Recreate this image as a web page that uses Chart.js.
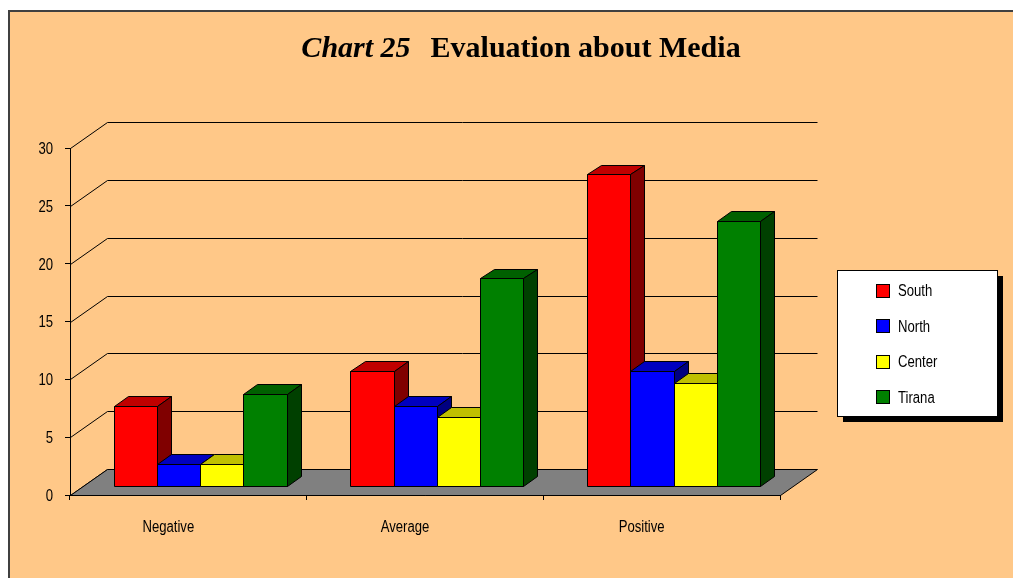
<!DOCTYPE html>
<html>
<head>
<meta charset="utf-8">
<script src="https://cdn.jsdelivr.net/npm/chart.js@4/dist/chart.umd.min.js"></script>
<style>
  html, body { margin: 0; padding: 0; background: #fff; }
  canvas { display: block; }
</style>
</head>
<body>
<canvas id="mediaChart" width="1013" height="578"></canvas>
<script>
var categories = ["Negative", "Average", "Positive"];
var regions = ["South", "North", "Center", "Tirana"];
var south = [7, 10, 27];
var north = [2, 7, 10];
var center = [2, 6, 9];
var tirana = [8, 18, 23];
var yTicks = [0, 5, 10, 15, 20, 25, 30];

var seriesValues = [south, north, center, tirana];

// front / top / side shade of each series box
var faceColors = [
    { front: '#ff0000', top: '#c00000', side: '#800000' },
    { front: '#0000ff', top: '#0000c0', side: '#000080' },
    { front: '#ffff00', top: '#c0c000', side: '#808000' },
    { front: '#008000', top: '#006000', side: '#004000' }
];

// depth of the 3d box, and the slice of it the bars stand in
var WALL = { dx: 37, dy: -26 };
var BAR_FRONT = 0.32, BAR_BACK = 0.70;

var LABEL_FONT = '16px "Liberation Sans", Arial, sans-serif';
var NARROW = 0.82;   // squeeze axis/legend text like Arial Narrow

function px(v) { return Math.round(v) + 0.5; }

function quad(c, pts, fill) {
    c.beginPath();
    c.moveTo(px(pts[0][0]), px(pts[0][1]));
    for (var i = 1; i < pts.length; i++) c.lineTo(px(pts[i][0]), px(pts[i][1]));
    c.closePath();
    c.fillStyle = fill;
    c.fill();
    c.stroke();
}

function narrowText(c, text, x, y, align) {
    c.save();
    c.font = LABEL_FONT;
    c.fillStyle = '#000';
    c.textAlign = align;
    c.textBaseline = 'middle';
    c.scale(NARROW, 1);
    c.fillText(text, x / NARROW, y + 1.5);
    c.restore();
}

var box3d = {
    id: 'box3d',
    beforeDraw: function (chart) {
        var c = chart.ctx, a = chart.chartArea, y = chart.scales.y;
        c.save();
        // sheet background and frame
        c.fillStyle = '#fff';
        c.fillRect(0, 0, chart.width, chart.height);
        c.fillStyle = '#ffc888';
        c.fillRect(9, 11, chart.width - 9, chart.height - 11);
        c.strokeStyle = '#404040';
        c.lineWidth = 2;
        c.beginPath();
        c.moveTo(9, chart.height);
        c.lineTo(9, 11);
        c.lineTo(chart.width, 11);
        c.stroke();

        // side wall diagonals + back wall gridlines
        c.lineWidth = 1;
        c.strokeStyle = '#000';
        yTicks.forEach(function (v) {
            var py = y.getPixelForValue(v);
            c.beginPath();
            c.moveTo(px(a.left), px(py));
            c.lineTo(px(a.left + WALL.dx), px(py + WALL.dy));
            if (v > 0) c.lineTo(px(a.right + WALL.dx), px(py + WALL.dy));
            c.stroke();
        });

        // floor
        var fy = y.getPixelForValue(0);
        quad(c, [[a.left, fy], [a.right, fy], [a.right + WALL.dx, fy + WALL.dy], [a.left + WALL.dx, fy + WALL.dy]], '#808080');
        c.restore();
    },
    beforeDatasetsDraw: function (chart) {
        var c = chart.ctx;
        var fx = WALL.dx * BAR_FRONT, fy = WALL.dy * BAR_FRONT;
        var bx = WALL.dx * (BAR_BACK - BAR_FRONT), by = WALL.dy * (BAR_BACK - BAR_FRONT);
        c.save();
        c.lineWidth = 1;
        c.strokeStyle = '#000';
        // left to right so each box hides the side of the one before it
        categories.forEach(function (cat, i) {
            chart.data.datasets.forEach(function (ds, d) {
                var bar = chart.getDatasetMeta(d).data[i];
                var l = bar.x - bar.width / 2 + fx, r = bar.x + bar.width / 2 + fx;
                var t = bar.y + fy, b = bar.base + fy;
                var col = faceColors[d];
                quad(c, [[l, b], [r, b], [r, t], [l, t]], col.front);
                quad(c, [[l, t], [r, t], [r + bx, t + by], [l + bx, t + by]], col.top);
                quad(c, [[r, b], [r + bx, b + by], [r + bx, t + by], [r, t]], col.side);
            });
        });
        c.restore();
        return false;
    },
    afterDraw: function (chart) {
        var c = chart.ctx, xs = chart.scales.x, ys = chart.scales.y;

        // axis labels
        yTicks.forEach(function (v) {
            narrowText(c, String(v), ys.right - 17, ys.getPixelForValue(v), 'right');
        });
        categories.forEach(function (cat, i) {
            narrowText(c, cat, xs.getPixelForValue(i) - 20, 526, 'center');
        });

        c.save();
        // title, italic chart number then bold caption
        var part1 = 'Chart 25', part2 = 'Evaluation about Media', gap = 20;
        var f1 = 'bold italic 30px "Liberation Serif", "Times New Roman", serif';
        var f2 = 'bold 30px "Liberation Serif", "Times New Roman", serif';
        c.font = f1;
        var w1 = c.measureText(part1).width;
        c.font = f2;
        var w2 = c.measureText(part2).width;
        var x0 = 521 - (w1 + gap + w2) / 2;
        c.fillStyle = '#000';
        c.textBaseline = 'alphabetic';
        c.textAlign = 'left';
        c.font = f1;
        c.fillText(part1, x0, 57);
        c.font = f2;
        c.fillText(part2, x0 + w1 + gap, 57);

        // legend box with drop shadow
        var lx = 837, ly = 270, lw = 160, lh = 146;
        c.fillStyle = '#000';
        c.fillRect(lx + 6, ly + 6, lw, lh);
        c.fillStyle = '#fff';
        c.fillRect(lx, ly, lw, lh);
        c.strokeStyle = '#000';
        c.lineWidth = 1;
        c.strokeRect(lx + 0.5, ly + 0.5, lw, lh);
        chart.data.datasets.forEach(function (ds, d) {
            var cy = 290 + d * 35.6;
            var sy = Math.round(cy - 6.5);
            c.fillStyle = ds.backgroundColor;
            c.fillRect(876, sy, 13, 13);
            c.strokeRect(876.5, sy + 0.5, 13, 13);
            narrowText(c, ds.label, 898, cy, 'left');
        });
        c.restore();
    }
};

new Chart(document.getElementById('mediaChart'), {
    type: 'bar',
    data: {
        labels: categories,
        datasets: regions.map(function (name, d) {
            return {
                label: name,
                data: seriesValues[d],
                backgroundColor: faceColors[d].front,
                borderColor: '#000',
                borderWidth: 1
            };
        })
    },
    options: {
        responsive: false,
        animation: false,
        events: [],
        layout: { padding: { left: 10, right: 233, top: 148, bottom: 43 } },
        datasets: { bar: { categoryPercentage: 0.73, barPercentage: 1 } },
        plugins: {
            legend: { display: false },
            title: { display: false },
            tooltip: { enabled: false }
        },
        scales: {
            x: {
                offset: true,
                grid: { offset: true, drawOnChartArea: false, tickLength: 5, color: '#000' },
                border: { color: '#000' },
                ticks: { display: false },
                afterFit: function (s) { s.height = 40; }
            },
            y: {
                min: 0,
                max: 30,
                grid: { drawOnChartArea: false, tickLength: 5, color: '#000' },
                border: { color: '#000' },
                ticks: { display: false, stepSize: 5 },
                afterFit: function (s) { s.width = 60; }
            }
        }
    },
    plugins: [box3d]
});
</script>
</body>
</html>
